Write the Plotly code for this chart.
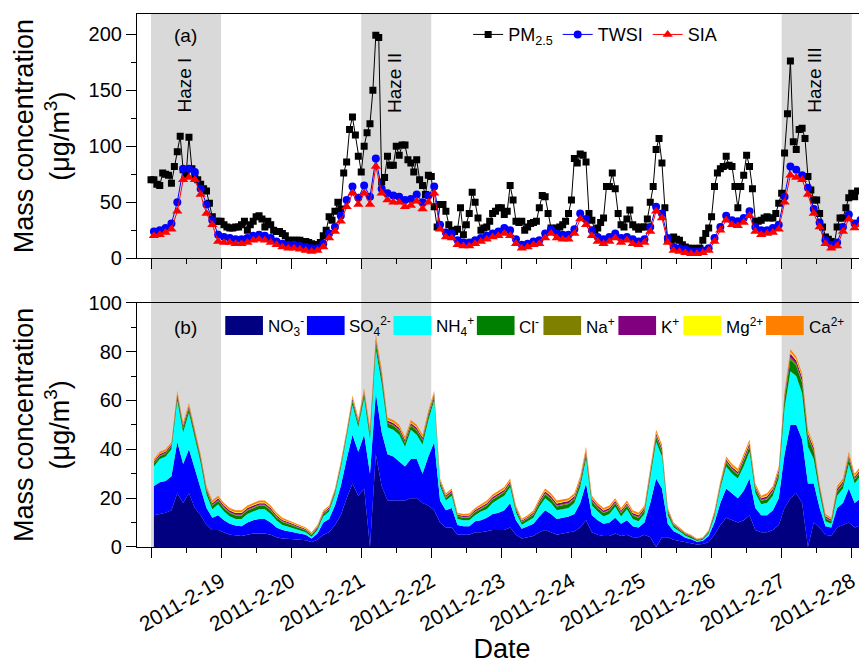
import plotly.graph_objects as go
import pandas as pd

# ---------------- data ----------------
# PM2.5, hourly from 2011-02-18 00:00
PM25 = [70, 70, 66, 65, 76, 75, 74, 67, 82, 95, 109, 79, 74, 108, 80, 74, 70, 66, 62, 60, 49, 37, 33, 33,
        33, 30, 28, 27, 27, 28, 28, 30, 33, 25, 30, 33, 37, 38, 35, 28, 33, 30, 25, 24, 24, 22, 20, 16,
        16, 16, 16, 16, 15, 15, 14, 13, 12, 12, 14, 20, 25, 37, 34, 42, 50, 44, 76, 86, 115, 126, 110, 91,
        77, 100, 112, 120, 150, 199, 197, 68, 72, 91, 83, 83, 100, 92, 101, 101, 88, 85, 77, 88, 70, 65, 57, 74,
        73, 46, 28, 48, 48, 42, 30, 25, 24, 26, 45, 21, 30, 40, 59, 50, 36, 25, 27, 28, 33, 40, 42, 45,
        45, 39, 42, 65, 52, 33, 32, 33, 25, 28, 31, 32, 33, 45, 56, 55, 40, 27, 25, 27, 28, 30, 33, 40,
        52, 89, 85, 93, 92, 86, 40, 34, 25, 27, 32, 36, 64, 64, 76, 62, 40, 30, 28, 35, 43, 30, 28, 26,
        28, 28, 35, 50, 64, 97, 107, 85, 45, 16, 16, 19, 17, 16, 12, 10, 9, 9, 8, 9, 9, 16, 22, 27,
        37, 64, 76, 80, 82, 91, 83, 82, 64, 45, 64, 74, 92, 82, 62, 33, 33, 34, 36, 37, 36, 36, 40, 49,
        58, 94, 129, 176, 104, 97, 115, 116, 107, 73, 61, 52, 52, 40, 28, 19, 17, 15, 12, 28, 36, 36, 45, 54,
        58, 55, 60]

# 2-hourly series from 2011-02-18 01:00
TWSI = [24, 25, 27, 31, 50, 80, 80, 77, 62, 48, 34, 21,
        19, 18, 17, 17, 18, 20, 21, 20, 18, 15, 13, 12, 12, 11, 10, 9, 9,
        13, 22, 28, 38, 52, 64, 54, 65, 55, 89, 62, 58, 56, 55, 52, 53, 57, 50, 56, 64, 30,
        23, 22, 16, 14, 14, 16, 18, 20, 22, 24, 27, 25, 17, 12, 13, 15, 16, 22, 26, 22, 21, 21,
        26, 40, 35, 25, 19, 17, 19, 22, 18, 19, 17, 15, 17, 28, 46, 40, 18, 10, 9, 8, 6, 6, 7, 9,
        18, 28, 38, 34, 33, 36, 42, 28, 25, 25, 27, 30, 55, 82, 79, 74, 63, 44, 32, 16, 12, 14, 28, 39, 31, 34]

SIA = [20, 21, 23, 26, 42, 70, 72, 70, 57, 40, 30, 15,
       14, 14, 13, 13, 14, 16, 17, 16, 14, 12, 10, 9, 9, 8, 7, 6, 7,
       10, 18, 24, 33, 46, 58, 48, 58, 48, 82, 58, 52, 50, 50, 46, 47, 51, 44, 50, 58, 26,
       19, 18, 12, 11, 11, 13, 15, 17, 19, 20, 22, 20, 13, 9, 10, 12, 13, 18, 22, 18, 17, 17,
       22, 35, 30, 20, 15, 13, 15, 18, 14, 16, 13, 12, 14, 24, 42, 36, 14, 7, 6, 5, 4, 4, 5, 7,
       15, 25, 34, 30, 29, 32, 38, 24, 21, 22, 23, 26, 50, 74, 72, 70, 57, 40, 28, 13, 9, 11, 24, 35, 27, 30]

NO3 = [13, 13.5, 14, 15, 22, 18, 22, 16, 13, 9, 7, 7,
       6, 5, 4.8, 4.5, 5, 5.5, 5.5, 5.5, 5, 4, 3.5, 3.5, 3.2, 3, 2.8, 2, 3,
       5, 6, 9, 13, 20, 26, 21, 24, 0, 38, 25, 19, 19, 19, 19, 20, 20, 18, 17, 15, 10,
       8, 8, 5, 5, 5, 6, 6, 6.5, 7, 7, 7, 8, 5, 3.5, 4, 4.5, 6, 7, 6, 5, 5.5, 6,
       6.5, 8, 11, 6, 5, 4.5, 4.5, 5.5, 4.5, 5, 4, 4, 5, 4, 0, 4, 4, 3, 2.5, 1.8, 1.5, 1, 1.2, 2,
       5, 9, 12, 11, 10, 11, 13, 7, 6, 6, 7, 9, 16, 20, 22, 18, 0, 10, 8, 5, 4.5, 8, 9, 10, 8, 9]

SO4 = [12, 13, 13, 14, 21, 16, 18, 16, 12, 7, 5, 6,
       5, 4.5, 4, 4, 5, 5.5, 6, 6, 5, 4, 3.5, 3, 2.8, 2.5, 2.2, 1.5, 2.5,
       5, 5.5, 8, 12, 16, 20, 18, 22, 30, 25, 22, 19, 18, 16, 14, 16, 16, 12, 20, 28, 9,
       7, 8, 4, 3.5, 3.5, 4.5, 5, 5.5, 6.5, 7, 8, 10, 6, 4, 4.5, 5, 6.5, 8, 7.5, 6.5, 6.5, 6.5,
       7, 10, 15, 7, 6, 5, 5.5, 6.5, 5, 6, 4.5, 4, 5, 14, 28, 20, 5.5, 3.5, 2.8, 2, 1.7, 1.2, 1.4, 2.5,
       5, 9, 12, 11, 10, 12, 15, 9, 7, 7, 8, 11, 22, 30, 28, 26, 26, 16, 8, 3.5, 3.5, 8, 9, 14, 10, 11]

NH4 = [8, 9.5, 10, 11, 17, 13, 15, 13, 9.5, 5.5, 3.5, 4.5,
       3.5, 3, 2.7, 3, 3.5, 3.5, 4, 4, 3.5, 2.8, 2, 1.8, 1.5, 1.3, 1, 0.7, 1.5,
       2.5, 3, 4.5, 7, 9, 12, 10, 15, 14, 18, 20, 11, 11, 11, 8, 12, 10, 12, 15, 17, 6,
       4, 5, 2.5, 2.5, 2.5, 2.5, 3.5, 3.5, 4.5, 5.5, 6, 6.5, 3, 1.6, 2, 2.5, 4, 5, 4.5, 3.5, 3.5, 3.5,
       4.5, 6.5, 10, 4, 3.5, 3, 3.5, 4.5, 3, 4.5, 3, 2.5, 3.5, 10, 15, 13, 3.5, 1.5, 1.2, 0.8, 0.5, 0.3, 0.4, 1,
       2.5, 6, 9, 8, 8, 10, 11, 6, 4.5, 5, 6, 8, 19, 22, 20, 19, 15, 10, 6, 2, 1.5, 5, 6, 10, 8, 9]

CL = [1.2, 1.2, 1.2, 1.2, 1.6, 1.6, 1.6, 1.6, 1.4, 1.4, 1.4, 1.4,
      1.4, 1.4, 1.4, 1.4, 1.4, 1.4, 1.4, 1.4, 1.4, 1.3, 1.2, 1.1, 1.0, 0.9, 0.8, 0.7, 0.8,
      1.0, 1.0, 1.0, 1.2, 1.2, 1.6, 1.6, 1.6, 2.0, 2.4, 2.4, 1.6, 1.6, 1.6, 1.6, 1.6, 1.6, 1.6, 1.6, 1.6, 1.2,
      1.2, 1.2, 1.0, 1.0, 1.1, 1.2, 1.2, 1.4, 1.4, 1.4, 1.4, 1.4, 1.2, 1.0, 1.0, 1.2, 1.4, 1.6, 1.6, 1.6, 1.6, 1.6,
      1.6, 1.8, 2.0, 1.6, 1.4, 1.4, 1.4, 1.4, 1.4, 1.4, 1.4, 1.4, 1.4, 1.6, 2.0, 2.0, 1.2, 0.8, 0.6, 0.6, 0.5, 0.4, 0.4, 0.6,
      1.0, 1.2, 1.6, 1.6, 1.6, 2.0, 2.0, 1.6, 1.4, 1.6, 1.6, 2.0, 3.5, 4.8, 4.2, 4.2, 3.6, 3.0, 1.6, 1.2, 1.0, 1.6, 1.6, 2.0, 1.6, 1.6]

NA = [0.3, 0.3, 0.3, 0.3, 0.4, 0.4, 0.4, 0.4, 0.35, 0.35, 0.35, 0.35,
      0.35, 0.35, 0.35, 0.35, 0.35, 0.35, 0.35, 0.35, 0.35, 0.3, 0.3, 0.3, 0.25, 0.2, 0.2, 0.2, 0.2,
      0.25, 0.25, 0.25, 0.3, 0.3, 0.4, 0.4, 0.4, 0.5, 0.6, 0.6, 0.4, 0.4, 0.4, 0.4, 0.4, 0.4, 0.4, 0.4, 0.4, 0.3,
      0.3, 0.3, 0.25, 0.25, 0.25, 0.3, 0.3, 0.35, 0.35, 0.35, 0.35, 0.35, 0.3, 0.25, 0.25, 0.3, 0.35, 0.4, 0.4, 0.4, 0.4, 0.4,
      0.4, 0.45, 0.5, 0.4, 0.35, 0.35, 0.35, 0.35, 0.35, 0.35, 0.35, 0.35, 0.35, 0.4, 0.5, 0.5, 0.3, 0.2, 0.15, 0.15, 0.13, 0.1, 0.1, 0.15,
      0.25, 0.3, 0.4, 0.4, 0.4, 0.5, 0.5, 0.4, 0.35, 0.4, 0.4, 0.5, 0.7, 0.9, 0.8, 0.8, 0.7, 0.6, 0.4, 0.3, 0.25, 0.4, 0.4, 0.5, 0.4, 0.4]

K = [0.6, 0.6, 0.6, 0.6, 0.8, 0.8, 0.8, 0.8, 0.7, 0.7, 0.7, 0.7,
     0.7, 0.7, 0.7, 0.7, 0.7, 0.7, 0.7, 0.7, 0.7, 0.65, 0.6, 0.55, 0.5, 0.45, 0.4, 0.35, 0.4,
     0.5, 0.5, 0.5, 0.6, 0.6, 0.8, 0.8, 0.8, 1.0, 1.2, 1.2, 0.8, 0.8, 0.8, 0.8, 0.8, 0.8, 0.8, 0.8, 0.8, 0.6,
     0.6, 0.6, 0.5, 0.5, 0.55, 0.6, 0.6, 0.7, 0.7, 0.7, 0.7, 0.7, 0.6, 0.5, 0.5, 0.6, 0.7, 0.8, 0.8, 0.8, 0.8, 0.8,
     0.8, 0.9, 1.0, 0.8, 0.7, 0.7, 0.7, 0.7, 0.7, 0.7, 0.7, 0.7, 0.7, 0.8, 1.0, 1.0, 0.6, 0.4, 0.3, 0.3, 0.25, 0.2, 0.2, 0.3,
     0.5, 0.6, 0.8, 0.8, 0.8, 1.0, 1.0, 0.8, 0.7, 0.8, 0.8, 1.0, 1.2, 1.5, 1.4, 1.4, 1.2, 1.0, 0.8, 0.6, 0.5, 0.8, 0.8, 1.0, 0.8, 0.8]

MG = [0.2, 0.2, 0.2, 0.2, 0.3, 0.3, 0.3, 0.3, 0.25, 0.25, 0.25, 0.25,
      0.25, 0.25, 0.25, 0.25, 0.25, 0.25, 0.25, 0.25, 0.25, 0.22, 0.2, 0.2, 0.18, 0.15, 0.14, 0.13, 0.14,
      0.18, 0.18, 0.18, 0.2, 0.2, 0.3, 0.3, 0.3, 0.35, 0.4, 0.4, 0.3, 0.3, 0.3, 0.3, 0.3, 0.3, 0.3, 0.3, 0.3, 0.2,
      0.2, 0.2, 0.18, 0.18, 0.19, 0.2, 0.2, 0.25, 0.25, 0.25, 0.25, 0.25, 0.2, 0.18, 0.18, 0.2, 0.25, 0.3, 0.3, 0.3, 0.3, 0.3,
      0.3, 0.3, 0.35, 0.3, 0.25, 0.25, 0.25, 0.25, 0.25, 0.25, 0.25, 0.25, 0.25, 0.3, 0.35, 0.35, 0.2, 0.14, 0.1, 0.1, 0.1, 0.07, 0.07, 0.1,
      0.18, 0.2, 0.3, 0.3, 0.3, 0.35, 0.35, 0.3, 0.25, 0.3, 0.3, 0.35, 0.5, 0.6, 0.55, 0.55, 0.5, 0.4, 0.3, 0.2, 0.18, 0.3, 0.3, 0.35, 0.3, 0.3]

CA = [0.7, 0.7, 0.7, 0.7, 0.9, 0.9, 0.9, 0.9, 0.8, 0.8, 0.8, 0.8,
      0.8, 0.8, 0.8, 0.8, 0.8, 0.8, 0.8, 0.8, 0.8, 0.73, 0.7, 0.55, 0.57, 0.5, 0.46, 0.42, 0.46,
      0.57, 0.57, 0.57, 0.7, 0.7, 0.9, 0.9, 0.9, 1.15, 1.4, 1.4, 0.9, 0.9, 0.9, 0.9, 0.9, 0.9, 0.9, 0.9, 0.9, 0.7,
      0.7, 0.7, 0.57, 0.57, 0.61, 0.7, 0.7, 0.8, 0.8, 0.8, 0.9, 0.8, 0.7, 0.57, 0.57, 0.7, 0.8, 0.9, 0.9, 0.9, 0.9, 0.9,
      0.9, 1.05, 1.15, 0.9, 0.8, 0.8, 0.8, 0.8, 0.8, 0.8, 0.8, 0.8, 0.8, 0.9, 1.15, 1.15, 0.7, 0.46, 0.35, 0.25, 0.32, 0.23, 0.23, 0.35,
      0.57, 0.7, 0.9, 0.9, 0.9, 1.15, 1.15, 0.9, 0.8, 0.9, 0.9, 1.15, 1.1, 1.2, 1.05, 1.05, 1.0, 1.0, 0.9, 0.7, 0.57, 0.9, 0.9, 1.15, 0.9, 0.9]

PM_START = '2011-02-18 00:00'
ION_START = '2011-02-18 01:00'
TICK_DATES = ['2011-02-18', '2011-02-19', '2011-02-20', '2011-02-21', '2011-02-22', '2011-02-23',
              '2011-02-24', '2011-02-25', '2011-02-26', '2011-02-27', '2011-02-28']
TICK_LABELS = ['', '2011-2-19', '2011-2-20', '2011-2-21', '2011-2-22', '2011-2-23',
               '2011-2-24', '2011-2-25', '2011-2-26', '2011-2-27', '2011-2-28']
MINOR_TICKS = ['2011-02-18 12:00', '2011-02-19 12:00', '2011-02-20 12:00', '2011-02-21 12:00',
               '2011-02-22 12:00', '2011-02-23 12:00', '2011-02-24 12:00', '2011-02-25 12:00',
               '2011-02-26 12:00', '2011-02-27 12:00', '2011-02-28 12:00']
HAZE = [('Haze I', '2011-02-18', '2011-02-19'),
        ('Haze II', '2011-02-21', '2011-02-22'),
        ('Haze III', '2011-02-27', '2011-02-28')]
X_RANGE = ['2011-02-17 19:12', '2011-02-28 05:14']

ION_NAMES = ['NO<sub>3</sub><sup>-</sup>', 'SO<sub>4</sub><sup>2-</sup>', 'NH<sub>4</sub><sup>+</sup>',
             'Cl<sup>-</sup>', 'Na<sup>+</sup>', 'K<sup>+</sup>', 'Mg<sup>2+</sup>', 'Ca<sup>2+</sup>']
ION_VALUES = [NO3, SO4, NH4, CL, NA, K, MG, CA]
ION_COLORS = ['#000080', '#0000FF', '#00FFFF', '#008000', '#808000', '#800080', '#FFFF00', '#FF8000']

t_pm = pd.date_range(PM_START, periods=len(PM25), freq='h')
t_ion = pd.date_range(ION_START, periods=len(TWSI), freq='2h')

FONT = 'Liberation Sans, Arial, sans-serif'
OFF = 8                      # page body margin
W, H = 867 - OFF, 664 - OFF  # figure size so it fits the window
# plot-area edges in screen pixels (reference)
SX0, SY0 = 136.7, 14.3
TOP_PANEL_BOTTOM, BOT_PANEL_TOP, BOT_PANEL_BOTTOM = 258.3, 302.7, 546.7
ML = SX0 - OFF
MT = SY0 - OFF
MR = 0
MB = H - (BOT_PANEL_BOTTOM - OFF)
PW, PH = W - ML - MR, H - MT - MB


def px(xs):   # screen x -> paper
    return (xs - OFF - ML) / PW


def py(ys):   # screen y -> paper
    return (H - MB - (ys - OFF)) / PH


fig = go.Figure()

# ---- top panel ----
fig.add_trace(go.Scatter(x=t_pm, y=PM25, name='PM<sub>2.5</sub>', mode='lines+markers',
                         line=dict(color='black', width=1),
                         marker=dict(symbol='square', size=7, color='black'),
                         xaxis='x2', yaxis='y2'))
fig.add_trace(go.Scatter(x=t_ion, y=TWSI, name='TWSI', mode='lines+markers',
                         line=dict(color='#0000FF', width=1),
                         marker=dict(symbol='circle', size=8, color='#0000FF'),
                         xaxis='x2', yaxis='y2'))
fig.add_trace(go.Scatter(x=t_ion, y=SIA, name='SIA', mode='lines+markers',
                         line=dict(color='#FF0000', width=1),
                         marker=dict(symbol='triangle-up', size=9, color='#FF0000'),
                         xaxis='x2', yaxis='y2'))

# ---- bottom panel: stacked areas ----
for name, vals, col in zip(ION_NAMES, ION_VALUES, ION_COLORS):
    fig.add_trace(go.Scatter(x=t_ion, y=vals, name=name, mode='lines', stackgroup='ions',
                             line=dict(width=0, color=col), fillcolor=col,
                             showlegend=False, xaxis='x', yaxis='y'))

# haze shading
shapes = []
for label, a, b in HAZE:
    shapes.append(dict(type='rect', xref='x', yref='paper', x0=a, x1=b, y0=0, y1=1,
                       fillcolor='#D9D9D9', line=dict(width=0), layer='below'))

# manual legend for panel (b)
box_x = [225, 306.7, 393.3, 476.7, 543.3, 618.3, 683.3, 766]
annotations = []
for bx, name, col in zip(box_x, ION_NAMES, ION_COLORS):
    shapes.append(dict(type='rect', xref='paper', yref='paper',
                       x0=px(bx), x1=px(bx + 37.7), y0=py(335), y1=py(316),
                       fillcolor=col, line=dict(width=0)))
    annotations.append(dict(xref='paper', yref='paper', x=px(bx + 40.5), y=py(326),
                            xanchor='left', yanchor='middle', text=name, showarrow=False,
                            font=dict(family=FONT, size=17, color='black')))

# panel labels and haze labels
annotations += [
    dict(xref='paper', yref='paper', x=px(185), y=py(36), text='(a)', showarrow=False,
         xanchor='center', yanchor='middle', font=dict(family=FONT, size=19, color='black')),
    dict(xref='paper', yref='paper', x=px(185.5), y=py(327), text='(b)', showarrow=False,
         xanchor='center', yanchor='middle', font=dict(family=FONT, size=19, color='black')),
]
haze_pos = [(184.5, 85), (395, 83), (815, 81)]
for (label, a, b), (hx, hy) in zip(HAZE, haze_pos):
    annotations.append(dict(xref='paper', yref='paper', x=px(hx), y=py(hy), text=label,
                            showarrow=False, textangle=-90, xanchor='center', yanchor='middle',
                            font=dict(family=FONT, size=19, color='black')))

axis_common = dict(showline=True, linecolor='black', linewidth=1.2, ticks='outside',
                   tickcolor='black', tickwidth=1, ticklen=10, showgrid=False, zeroline=False,
                   automargin=False,
                   tickfont=dict(family=FONT, size=20, color='black'))

TOP_BOTTOM = py(TOP_PANEL_BOTTOM)
BOT_TOP = py(BOT_PANEL_TOP)
YTITLE = 'Mass concentration<br>(μg/m<sup>3</sup>)'

fig.update_layout(
    width=W, height=H,
    margin=dict(l=ML, r=MR, t=MT, b=MB, pad=0, autoexpand=False),
    paper_bgcolor='white', plot_bgcolor='rgba(0,0,0,0)',
    font=dict(family=FONT, color='black'),
    shapes=shapes, annotations=annotations,
    showlegend=True,
    legend=dict(orientation='h', x=px(468), xanchor='left', y=py(35), yanchor='middle',
                traceorder='normal',
                bgcolor='rgba(0,0,0,0)', font=dict(family=FONT, size=18, color='black'),
                itemwidth=30, tracegroupgap=0),
    xaxis=dict(**axis_common, domain=[0, 1], anchor='y', type='date', range=X_RANGE,
               mirror=True, tickmode='array', tickvals=TICK_DATES, ticktext=TICK_LABELS,
               tickangle=-30, ticklabelstandoff=3,
               minor=dict(tickmode='array', tickvals=MINOR_TICKS, ticklen=5, ticks='outside',
                          tickcolor='black', tickwidth=1),
               title=dict(text='Date', font=dict(family=FONT, size=27, color='black'), standoff=9)),
    xaxis2=dict(**axis_common, domain=[0, 1], anchor='y2', type='date', range=X_RANGE,
                matches='x', mirror=True, tickmode='array', tickvals=TICK_DATES,
                showticklabels=False,
                minor=dict(tickmode='array', tickvals=MINOR_TICKS, ticklen=5, ticks='outside',
                           tickcolor='black', tickwidth=1)),
    yaxis=dict(**axis_common, domain=[0, BOT_TOP], anchor='x', range=[0, 100],
               tickmode='linear', tick0=0, dtick=20,
               minor=dict(tick0=0, dtick=10, ticklen=5, ticks='outside', tickcolor='black', tickwidth=1),
               title=dict(text=YTITLE, font=dict(family=FONT, size=27, color='black'), standoff=11)),
    yaxis2=dict(**axis_common, domain=[TOP_BOTTOM, 1], anchor='x2', range=[0, 218],
                tickmode='linear', tick0=0, dtick=50,
                minor=dict(tick0=0, dtick=25, ticklen=5, ticks='outside', tickcolor='black', tickwidth=1),
                title=dict(text=YTITLE, font=dict(family=FONT, size=27, color='black'), standoff=11)),
)
fig.update_xaxes(tickfont=dict(family=FONT, size=21, color='black'), selector=dict(anchor='y'))

fig.write_html('out.html')
